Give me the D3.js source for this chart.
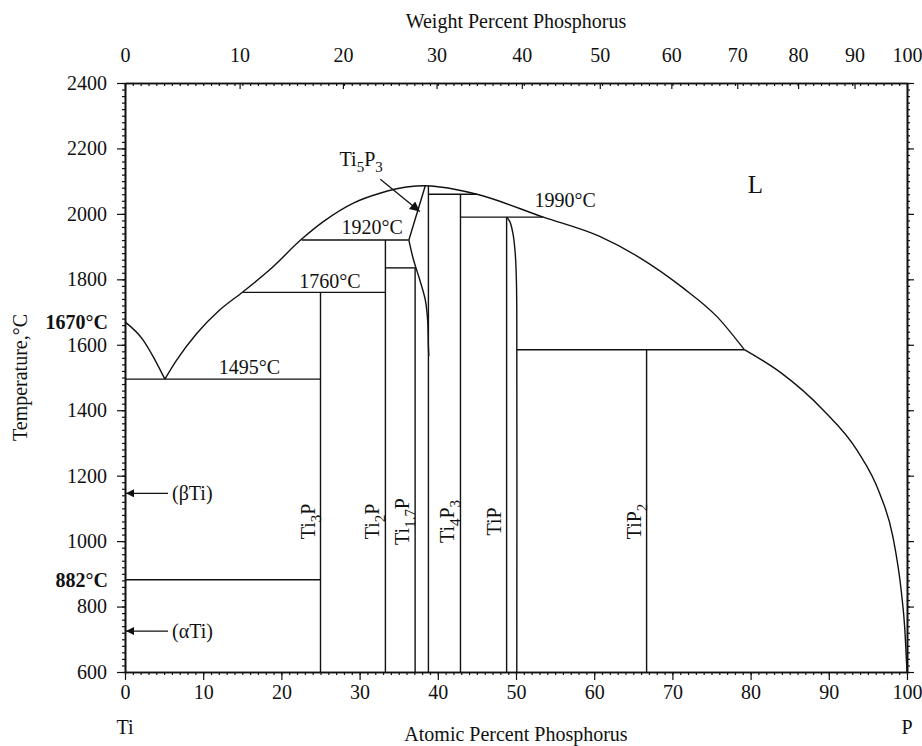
<!DOCTYPE html>
<html>
<head>
<meta charset="utf-8">
<script src="https://cdn.jsdelivr.net/npm/d3@7"></script>
<style>
body { margin: 0; background: #fff; }
text { font-family: "Liberation Serif", "Times New Roman", serif; fill: #111; }
</style>
</head>
<body>
<script>
// Tick values
const atTicks = [0, 10, 20, 30, 40, 50, 60, 70, 80, 90, 100];
const wtTicks = [0, 10, 20, 30, 40, 50, 60, 70, 80, 90, 100];
const tempTicks = [600, 800, 1000, 1200, 1400, 1600, 1800, 2000, 2200, 2400];

// atomic masses for the weight percent scale on top
const massTi = 47.867, massP = 30.974;

// Liquidus branches, [at.% P, °C]
const liquidusTi = [[0, 1670], [2.3, 1615], [3.6, 1564], [5.1, 1495]];
const liquidusMain = [[5.1, 1495], [6.6, 1553], [9.2, 1635], [12.1, 1706], [15.1, 1762], [18.5, 1829],
    [22.6, 1923], [25.4, 1977], [29.2, 2033], [32.6, 2063], [36.0, 2082], [38.4, 2086], [40.3, 2082],
    [45.0, 2060], [53.5, 1990], [60.7, 1931], [65.9, 1865], [71.4, 1773], [75.7, 1686], [79.2, 1585]];
const liquidusP = [[79.2, 1585], [83.9, 1514], [89.3, 1400], [93.6, 1278], [96.5, 1146], [98.2, 1013],
    [99.3, 840], [99.7, 738], [100, 600]];

// Phase boundaries
const ti5p3Upper = [[36.3, 1920], [38.4, 2086]];
const ti5p3Lower = [[36.3, 1920], [36.9, 1859], [37.7, 1798], [38.4, 1737], [38.7, 1676], [38.8, 1594], [38.85, 1565]];
const tipRight = [[48.8, 1990], [49.2, 1977], [49.6, 1941], [49.9, 1880], [50.05, 1798], [50.1, 1697], [50.1, 600]];

// Compounds: name, composition (at.% P), top of its line (°C)
const compoundNames = ["Ti<3>P", "Ti<2>P", "Ti<1.7>P", "Ti<4>P<3>", "TiP", "TiP<2>"];
const compoundAt = [25, 33.3, 37.1, 42.9, 48.8, 66.7];
const compoundTop = [1760, 1920, 1835, 2060, 1990, 1585];
const ti5p3At = 38.8, ti5p3Top = 2085;

// Horizontal invariant lines: from, to (at.% P), temperature
const isoFrom = [0, 15.1, 22.6, 33.3, 38.8, 42.9, 50.1, 0];
const isoTo = [25, 33.3, 36.3, 37.2, 45.0, 53.5, 79.2, 25];
const isoTemp = [1495, 1760, 1920, 1835, 2060, 1990, 1585, 882];

// Temperature labels
const isoLabelText = ["1495°C", "1760°C", "1920°C", "1990°C"];
const isoLabelAt = [15.9, 26.2, 31.6, 56.3];
const isoLabelTemp = [1511, 1773, 1939, 2021];

var fs = 20;

var margin = { top: 83, right: 15, bottom: 74, left: 125 },
    width = 922 - margin.left - margin.right,
    height = 746 - margin.top - margin.bottom;

var svg = d3.select("body")
    .append("svg")
    .attr("width", width + margin.left + margin.right)
    .attr("height", height + margin.top + margin.bottom);

var defs = svg.append("defs");
function marker(id, w, h) {
    defs.append("marker")
        .attr("id", id)
        .attr("viewBox", "0 0 10 10")
        .attr("refX", 10).attr("refY", 5)
        .attr("markerWidth", w).attr("markerHeight", h)
        .attr("markerUnits", "userSpaceOnUse")
        .attr("orient", "auto")
        .append("path").attr("d", "M0,0L10,5L0,10Z").attr("fill", "#111");
}
marker("head", 12, 8);
marker("headBig", 15, 10);

var g = svg.append("g").attr("transform", `translate(${margin.left},${margin.top})`);

var x = d3.scaleLinear().domain([0, 100]).range([0, width]);
var y = d3.scaleLinear().domain([600, 2400]).range([height, 0]);

function wtToAt(w) {
    let p = w / massP, t = (100 - w) / massTi;
    return 100 * p / (p + t);
}

var minorAt = d3.range(0, 101, 1);
var minorT = d3.range(600, 2401, 20);

function styleAxis(sel) {
    sel.select(".domain").attr("stroke", "#111").attr("stroke-width", 1.6);
    sel.selectAll(".tick line").attr("stroke", "#111").attr("stroke-width", 1.2);
    sel.selectAll("text").style("font-size", fs + "px").attr("fill", "#111")
        .style("font-family", '"Liberation Serif", serif');
}

// bottom axis
g.append("g").attr("transform", `translate(0,${height})`)
    .call(d3.axisBottom(x).tickValues(minorAt).tickSize(3).tickSizeOuter(0).tickFormat(""))
    .call(styleAxis);
g.append("g").attr("transform", `translate(0,${height})`)
    .call(d3.axisBottom(x).tickValues(atTicks).tickSize(8).tickSizeOuter(0).tickPadding(5).tickFormat(d3.format("d")))
    .call(styleAxis);

// top axis (weight percent)
g.append("g")
    .call(d3.axisTop(x).tickValues(minorAt).tickSize(-3).tickSizeOuter(0).tickFormat(""))
    .call(styleAxis);
g.append("g")
    .call(d3.axisTop(x).tickValues(wtTicks.map(wtToAt)).tickSize(-6).tickSizeOuter(0)
        .tickPadding(21).tickFormat((d, i) => wtTicks[i]))
    .call(styleAxis);

// left axis
g.append("g")
    .call(d3.axisLeft(y).tickValues(minorT).tickSize(3).tickSizeOuter(0).tickFormat(""))
    .call(styleAxis);
g.append("g")
    .call(d3.axisLeft(y).tickValues(tempTicks).tickSize(8).tickSizeOuter(0).tickPadding(10).tickFormat(d3.format("d")))
    .call(styleAxis);

// right axis
g.append("g").attr("transform", `translate(${width},0)`)
    .call(d3.axisRight(y).tickValues(minorT).tickSize(3).tickSizeOuter(0).tickFormat(""))
    .call(styleAxis);
g.append("g").attr("transform", `translate(${width},0)`)
    .call(d3.axisRight(y).tickValues(tempTicks).tickSize(7).tickSizeOuter(0).tickFormat(""))
    .call(styleAxis);

// phase diagram lines
var mono = d3.line().x(d => x(d[0])).y(d => y(d[1])).curve(d3.curveMonotoneX);
var smooth = d3.line().x(d => x(d[0])).y(d => y(d[1])).curve(d3.curveCatmullRom.alpha(0.5));
var straight = d3.line().x(d => x(d[0])).y(d => y(d[1]));

var lines = g.append("g").attr("fill", "none").attr("stroke", "#111").attr("stroke-width", 1.4);

[liquidusTi, liquidusMain, liquidusP].forEach(function (pts) {
    lines.append("path").attr("d", mono(pts));
});
[ti5p3Lower, tipRight].forEach(function (pts) {
    lines.append("path").attr("d", smooth(pts));
});
lines.append("path").attr("d", straight(ti5p3Upper));

compoundAt.forEach(function (c, i) {
    lines.append("line")
        .attr("x1", x(c)).attr("x2", x(c))
        .attr("y1", y(600)).attr("y2", y(compoundTop[i]));
});
lines.append("line")
    .attr("x1", x(ti5p3At)).attr("x2", x(ti5p3At))
    .attr("y1", y(600)).attr("y2", y(ti5p3Top));

isoTemp.forEach(function (t, i) {
    lines.append("line")
        .attr("x1", x(isoFrom[i])).attr("x2", x(isoTo[i]))
        .attr("y1", y(t)).attr("y2", y(t));
});

// text with subscripts written as <n>
function addRich(sel, str, size) {
    let parts = str.split(/(<[^>]+>)/).filter(s => s.length);
    let shifted = false;
    parts.forEach(function (p) {
        if (p[0] === "<") {
            sel.append("tspan").attr("dy", size * 0.3).style("font-size", (size * 0.75) + "px").text(p.slice(1, -1));
            shifted = true;
        } else {
            sel.append("tspan").attr("dy", shifted ? -size * 0.3 : 0).text(p);
            shifted = false;
        }
    });
}

// compound labels, vertical
compoundNames.forEach(function (name, i) {
    let t = g.append("text")
        .attr("transform", `translate(${x(compoundAt[i]) - 6},${y(1060)}) rotate(-90)`)
        .attr("text-anchor", "middle")
        .style("font-size", fs + "px");
    addRich(t, name, fs);
});

// temperatures
isoLabelText.forEach(function (s, i) {
    g.append("text")
        .attr("x", x(isoLabelAt[i])).attr("y", y(isoLabelTemp[i]))
        .attr("text-anchor", "middle")
        .style("font-size", fs + "px")
        .text(s);
});

// Ti5P3 label and arrow
var t53 = g.append("text").attr("x", x(30.2)).attr("y", y(2145))
    .attr("text-anchor", "middle").style("font-size", fs + "px");
addRich(t53, "Ti<5>P<3>", fs);
g.append("line")
    .attr("x1", x(32.65)).attr("y1", y(2106))
    .attr("x2", x(37.7)).attr("y2", y(2007))
    .attr("stroke", "#111").attr("stroke-width", 1.3)
    .attr("marker-end", "url(#headBig)");

g.append("text").attr("x", x(80.6)).attr("y", y(2064))
    .attr("text-anchor", "middle").style("font-size", "25px").text("L");

// (βTi) and (αTi)
[["(βTi)", 1146], ["(αTi)", 725]].forEach(function (d) {
    g.append("line")
        .attr("x1", x(0) + 43).attr("x2", x(0) + 1)
        .attr("y1", y(d[1])).attr("y2", y(d[1]))
        .attr("stroke", "#111").attr("stroke-width", 1.3)
        .attr("marker-end", "url(#head)");
    g.append("text")
        .attr("x", x(0) + 47).attr("y", y(d[1])).attr("dy", "0.35em")
        .style("font-size", fs + "px").text(d[0]);
});

// bold melting/transformation temperatures
[["1670°C", 1670], ["882°C", 882]].forEach(function (d) {
    g.append("text")
        .attr("x", -17).attr("y", y(d[1])).attr("dy", "0.35em")
        .attr("text-anchor", "end")
        .style("font-size", fs + "px").style("font-weight", "bold").text(d[0]);
});

// axis titles
g.append("text")
    .attr("transform", `translate(${-98},${y(1500)}) rotate(-90)`)
    .attr("text-anchor", "middle")
    .style("font-size", fs + "px")
    .text("Temperature,°C");

svg.append("text")
    .attr("x", margin.left + width / 2).attr("y", 28)
    .attr("text-anchor", "middle").style("font-size", fs + "px")
    .text("Weight Percent Phosphorus");

svg.append("text")
    .attr("x", margin.left + width / 2).attr("y", 741)
    .attr("text-anchor", "middle").style("font-size", fs + "px")
    .text("Atomic Percent Phosphorus");

svg.append("text").attr("x", margin.left + x(0)).attr("y", 734)
    .attr("text-anchor", "middle").style("font-size", fs + "px").text("Ti");
svg.append("text").attr("x", margin.left + x(100)).attr("y", 734)
    .attr("text-anchor", "middle").style("font-size", fs + "px").text("P");
</script>
</body>
</html>
